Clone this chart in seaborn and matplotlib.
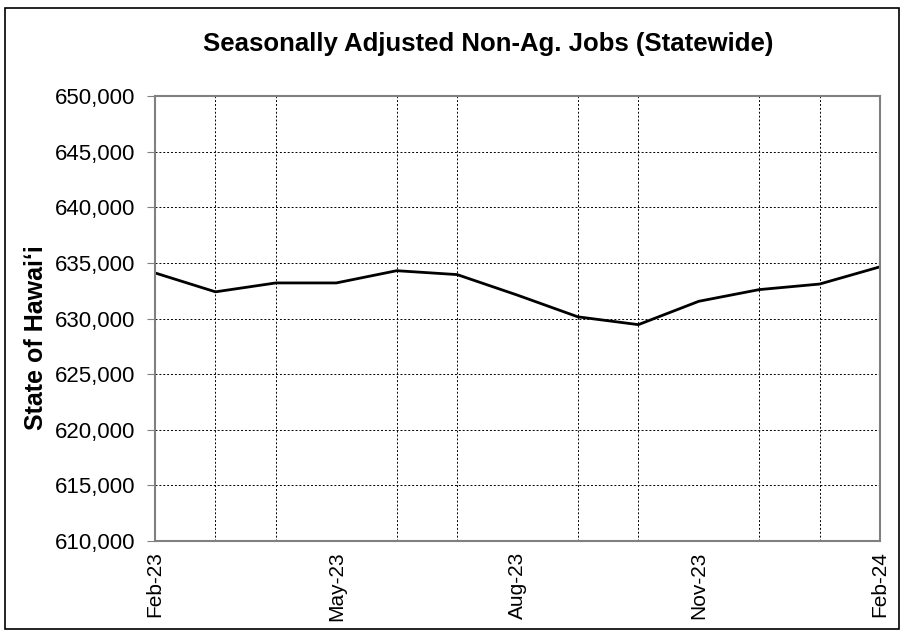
import pandas as pd
import seaborn as sns
import matplotlib.pyplot as plt
from matplotlib.ticker import FuncFormatter, MultipleLocator

months = ["Feb-23", "Mar-23", "Apr-23", "May-23", "Jun-23", "Jul-23", "Aug-23",
          "Sep-23", "Oct-23", "Nov-23", "Dec-23", "Jan-24", "Feb-24"]
jobs = [634100, 632400, 633200, 633200, 634300, 633950, 632100,
        630150, 629450, 631550, 632600, 633100, 634650]

df = pd.DataFrame({"month": months, "jobs": jobs})

sns.set_style("white")
plt.rcParams["font.family"] = ["Liberation Sans", "DejaVu Sans"]
plt.rcParams["text.color"] = "black"
plt.rcParams["xtick.color"] = "black"
plt.rcParams["ytick.color"] = "black"

fig = plt.figure(figsize=(9.04, 6.32), dpi=100)
ax = fig.add_axes([0.1715, 0.144, 0.802, 0.704])

sns.lineplot(data=df, x="month", y="jobs", color="black", linewidth=2, ax=ax)

ax.set_xlim(0, len(months) - 1)
ax.set_ylim(610000, 650000)
ax.yaxis.set_major_locator(MultipleLocator(5000))
ax.yaxis.set_major_formatter(FuncFormatter(lambda v, p: f"{v:,.0f}"))
ax.set_xticks(range(0, len(months), 3))
ax.set_xticklabels(months[::3], rotation=90)
ax.set_xticks(range(len(months)), minor=True)

ax.grid(True, which="major", axis="y", color="black", linestyle=(0, (2, 2)), linewidth=0.7)
ax.grid(True, which="minor", axis="x", color="black", linestyle=(0, (2, 2)), linewidth=0.7)

for s in ax.spines.values():
    s.set_color("#808080")
    s.set_linewidth(1.5)

ax.tick_params(axis="y", which="major", left=True, length=6, color="#808080",
               labelcolor="black", labelsize=16, pad=8)
ax.tick_params(axis="x", which="both", bottom=False, labelcolor="black",
               labelsize=15, pad=4)

ax.set_xlabel("")
ax.set_ylabel("State of Hawaiʻi", fontsize=18, fontweight="bold", color="black")
ax.yaxis.set_label_coords(-0.148, 0.456)
fig.suptitle("Seasonally Adjusted Non-Ag. Jobs (Statewide)", fontsize=18.5,
             fontweight="bold", color="black", x=0.54, y=0.95)

fig.patches.append(plt.Rectangle((0.005, 0.005), 0.99, 0.982, transform=fig.transFigure,
                                 fill=False, edgecolor="black", linewidth=1.2))

fig.savefig("out.png", dpi=100)
